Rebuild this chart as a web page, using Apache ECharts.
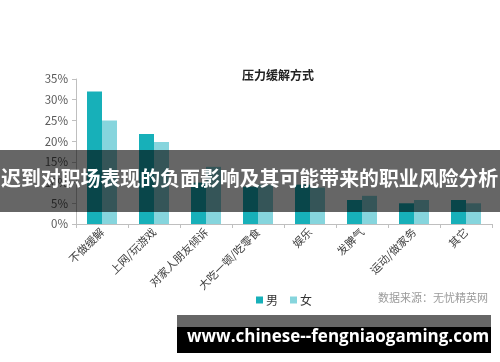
<!DOCTYPE html>
<html><head><meta charset="utf-8">
<script src="https://cdn.jsdelivr.net/npm/echarts@6/dist/echarts.min.js"></script>
<style>html,body{margin:0;padding:0;background:#fff}#c{width:500px;height:362px}</style>
</head><body><div id="c"></div>
<script>
const categories = ['不做缓解','上网/玩游戏','对家人朋友倾诉','大吃一顿/吃零食','娱乐','发脾气','运动/做家务','其它'];
const male = [32, 21.7, 10, 9, 9.5, 5.8, 5.0, 5.8];
const female = [25, 19.8, 13.8, 9.5, 8.8, 6.8, 5.8, 5.0];
const yTicks = [0, 5, 10, 15, 20, 25, 30, 35];
const chartTitle = '压力缓解方式';
const sourceText = '数据来源：无忧精英网';
const bannerText = '迟到对职场表现的负面影响及其可能带来的职业风险分析';
const urlText = 'www.chinese--fengniaogaming.com';

const font = '"Noto Sans CJK SC", "Noto Sans", sans-serif';
const chart = echarts.init(document.getElementById('c'));
chart.setOption({
  animation: false,
  textStyle: {fontFamily: font},
  title: {text: chartTitle, left: 237, top: 64, textStyle: {fontSize: 12, fontWeight: 'bold', color: '#222', fontFamily: font}},
  legend: {data: ['男','女'], left: 251, top: 289, itemWidth: 7, itemHeight: 7, itemGap: 12,
    icon: 'rect', textStyle: {fontSize: 12, color: '#333', padding: [0,0,0,-2]}},
  grid: {left: 76, right: 8, top: 79, bottom: 138},
  xAxis: {type: 'category', data: categories,
    axisLine: {lineStyle: {color: '#bfbfbf'}},
    axisTick: {show: true, lineStyle: {color: '#bfbfbf'}, length: 4},
    axisLabel: {rotate: 45, fontSize: 11, color: '#404040', margin: 6, interval: 0}},
  yAxis: {type: 'value', min: yTicks[0], max: yTicks[yTicks.length-1], interval: 5,
    axisLine: {show: true, lineStyle: {color: '#bfbfbf'}},
    axisTick: {show: true, lineStyle: {color: '#bfbfbf'}, length: 4},
    splitLine: {show: false},
    axisLabel: {formatter: '{value}%', fontSize: 11.5, color: '#595959', margin: 8}},
  series: [
    {name: '男', type: 'bar', data: male, barWidth: 15, barGap: '0%', itemStyle: {color: '#17b0b9'}},
    {name: '女', type: 'bar', data: female, barWidth: 15, itemStyle: {color: '#86d5dd'}}
  ],
  graphic: [
    {type: 'text', right: 12, top: 292, z: 50, style: {text: sourceText, fontSize: 11, fill: '#9a9a9a', fontFamily: font}},
    {type: 'rect', left: 0, top: 150, z: 100, shape: {width: 500, height: 62}, style: {fill: 'rgba(0,0,0,0.6)'}},
    {type: 'text', left: 1, top: 168, z: 101, style: {text: bannerText, fontSize: 19.9, fontWeight: 'bold', fill: '#fff', fontFamily: font}},
    {type: 'rect', left: 177, top: 315, z: 100, shape: {width: 314, height: 12}, style: {fill: 'rgba(0,0,0,0.6)'}},
    {type: 'rect', left: 177, top: 327, z: 100, shape: {width: 314, height: 26}, style: {fill: '#000'}},
    {type: 'text', left: 187, top: 329, z: 101, style: {text: urlText, fontSize: 17, fontWeight: 'bold', fill: '#fff', fontFamily: '"Open Sans", "DejaVu Sans", sans-serif'}}
  ]
});
</script></body></html>
